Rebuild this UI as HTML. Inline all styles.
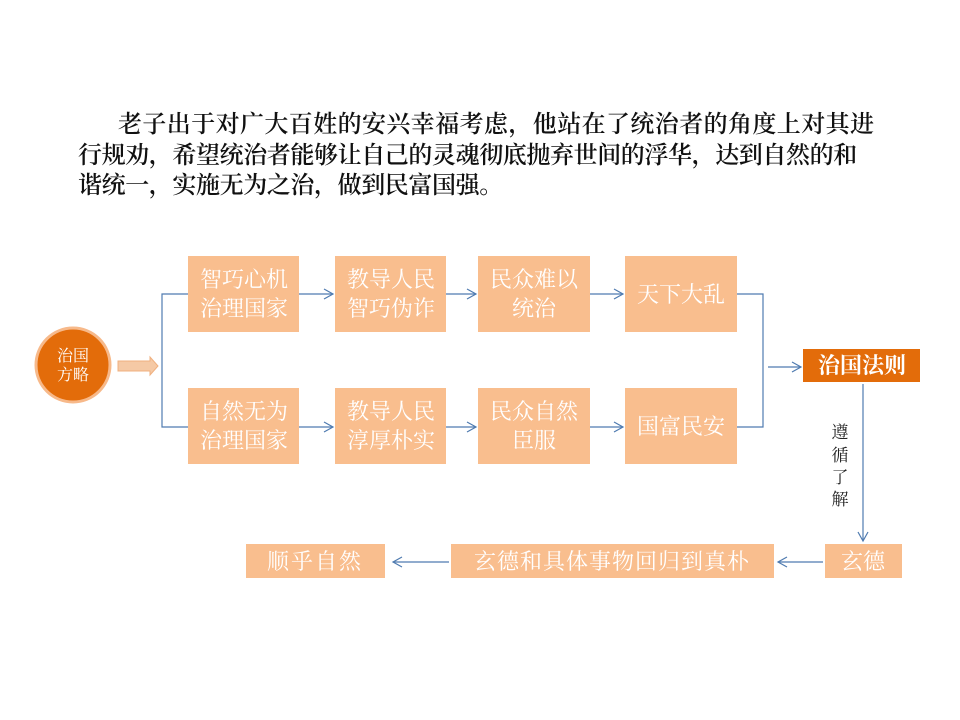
<!DOCTYPE html>
<html><head><meta charset="utf-8"><style>
body{margin:0;background:#fff;}
.wrap{position:relative;width:960px;height:720px;overflow:hidden;background:#fff;}
.p{position:absolute;font-family:"Liberation Serif","Noto Serif CJK SC",serif;font-size:24px;font-weight:600;color:#111;white-space:nowrap;letter-spacing:0.4px;line-height:30px;}
svg{position:absolute;left:0;top:0;}
svg text{font-family:"Liberation Serif","Noto Serif CJK SC",serif;}
</style></head><body><div class="wrap">
<div class="p" style="left:118px;top:110px;">老子出于对广大百姓的安兴幸福考虑，他站在了统治者的角度上对其进</div>
<div class="p" style="left:78px;top:141px;letter-spacing:-0.4px;">行规劝，希望统治者能够让自己的灵魂彻底抛弃世间的浮华，达到自然的和</div>
<div class="p" style="left:78px;top:171px;letter-spacing:-0.4px;">谐统一，实施无为之治，做到民富国强。</div>
<svg width="960" height="720" viewBox="0 0 960 720">
<defs><marker id="a" markerWidth="12" markerHeight="12" refX="10" refY="6" orient="auto" markerUnits="userSpaceOnUse"><path d="M1,1 L10,6 L1,11" fill="none" stroke="#4F7BB0" stroke-width="1.2"/></marker></defs>
<g fill="#F9BE8E">
<rect x="188" y="256" width="111" height="76"/><rect x="335" y="256" width="111" height="76"/>
<rect x="478" y="256" width="112" height="76"/><rect x="625" y="256" width="112" height="76"/>
<rect x="188" y="388" width="111" height="76"/><rect x="335" y="388" width="111" height="76"/>
<rect x="478" y="388" width="112" height="76"/><rect x="625" y="388" width="112" height="76"/>
<rect x="825" y="544" width="77" height="34"/><rect x="451" y="544" width="323" height="34"/>
<rect x="246" y="544" width="139" height="34"/>
</g>
<rect x="803" y="349" width="117" height="33" fill="#E36C0A"/>
<circle cx="73" cy="365" r="37" fill="#E36C0A" stroke="#F7B98A" stroke-width="3"/>
<path d="M118,361 H150 V357 L158,366 L150,375 V371 H118 Z" fill="#F5C9A5" stroke="#F0B07F" stroke-width="1"/>
<g stroke="#4F7BB0" stroke-width="1.2" fill="none">
<path d="M188,294 H162 V427 H188"/>
<path d="M299,294 H333" marker-end="url(#a)"/><path d="M446,294 H476" marker-end="url(#a)"/><path d="M590,294 H623" marker-end="url(#a)"/>
<path d="M299,427 H333" marker-end="url(#a)"/><path d="M446,427 H476" marker-end="url(#a)"/><path d="M590,427 H623" marker-end="url(#a)"/>
<path d="M737,294 H763 V427 H737"/>
<path d="M768,367 H801" marker-end="url(#a)"/>
<path d="M863,384 V541" marker-end="url(#a)"/>
<path d="M823,562 H778" marker-end="url(#a)"/>
<path d="M449,562 H393" marker-end="url(#a)"/>
</g>
<g fill="#fff" font-size="22" text-anchor="middle">
<text x="244" y="287">智巧心机</text><text x="244" y="316">治理国家</text>
<text x="391" y="287">教导人民</text><text x="391" y="316">智巧伪诈</text>
<text x="534" y="287">民众难以</text><text x="534" y="316">统治</text>
<text x="681" y="302">天下大乱</text>
<text x="244" y="419">自然无为</text><text x="244" y="448">治理国家</text>
<text x="391" y="419">教导人民</text><text x="391" y="448">淳厚朴实</text>
<text x="534" y="419">民众自然</text><text x="534" y="448">臣服</text>
<text x="681" y="434">国富民安</text>
<text x="862" y="373" font-weight="bold">治国法则</text>
<text x="863" y="569">玄德</text>
<text x="612" y="569" letter-spacing="1">玄德和具体事物回归到真朴</text>
<text x="315" y="569" letter-spacing="2">顺乎自然</text>
</g>
<g fill="#fff" font-size="16" text-anchor="middle">
<text x="73" y="361">治国</text><text x="73" y="380">方略</text>
</g>
<g fill="#222" font-size="17" text-anchor="middle">
<text x="840" y="438">遵</text><text x="840" y="461">循</text><text x="840" y="483">了</text><text x="840" y="505">解</text>
</g>
</svg>
</div></body></html>
